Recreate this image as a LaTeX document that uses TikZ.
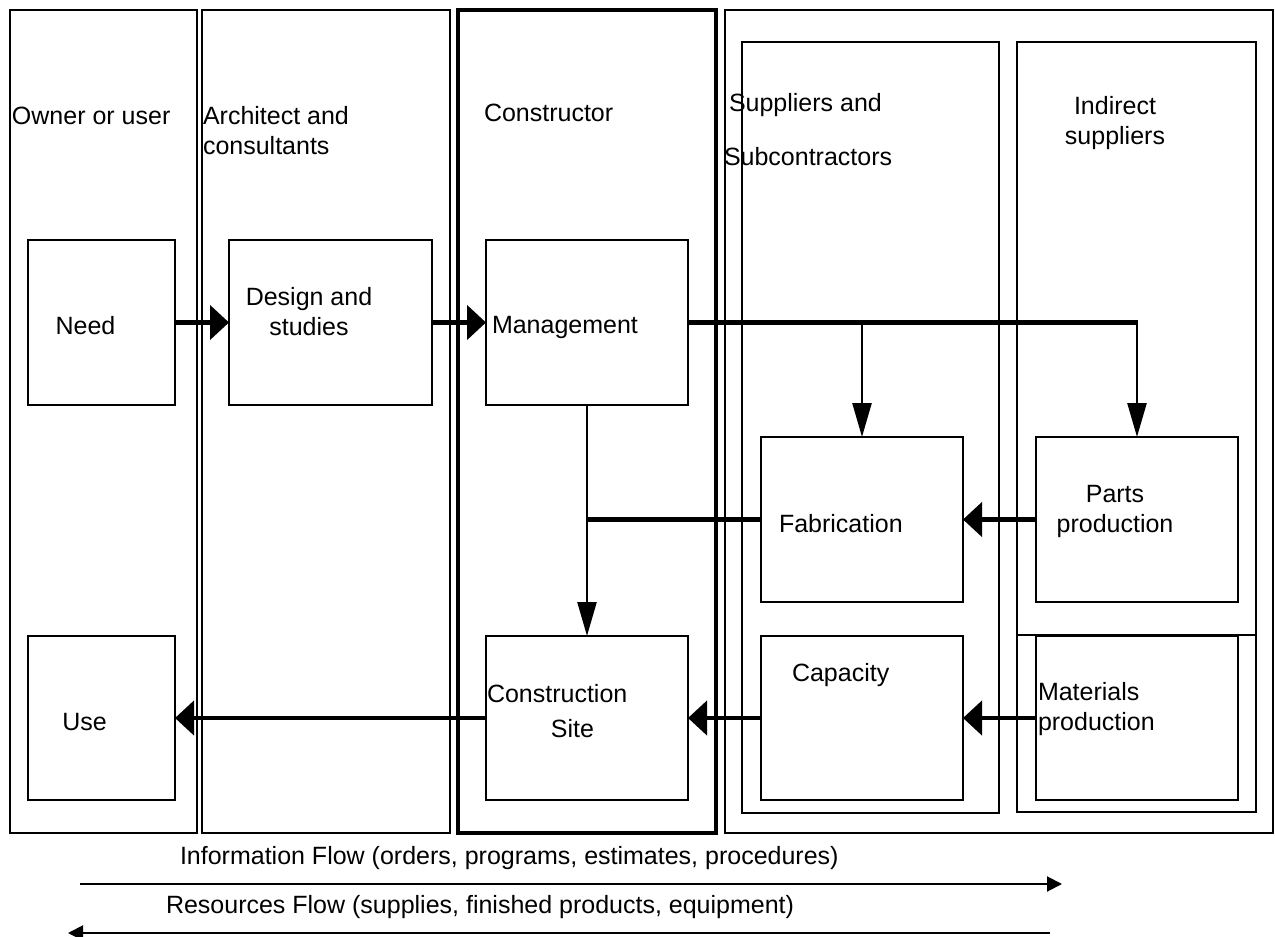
\documentclass[tikz,border=0pt]{standalone}
\usepackage{fontspec}
\setmainfont{Liberation Sans}
\usetikzlibrary{arrows.meta}
\tikzset{
  lane/.style={draw, line width=2pt},
  thicklane/.style={draw, line width=4.5pt},
  box/.style={draw, line width=2pt, inner sep=0pt, outer sep=0pt},
  lbl/.style={inner sep=0pt, outer sep=0pt, font=\fontsize{25}{30}\selectfont},
  flowH/.style={line width=4.5pt, -{Triangle[length=19pt,width=34pt]}},
  flowV/.style={line width=2.5pt, -{Triangle[length=34pt,width=19pt]}},
  bar/.style={line width=4.5pt},
  thinbar/.style={line width=2.5pt},
  legend/.style={line width=2pt, -{Triangle[length=15pt,width=15pt]}},
}
\begin{document}
\begin{tikzpicture}[x=1pt,y=-1pt]
\useasboundingbox (0,0) rectangle (1275,937);

% lanes
\draw[lane] (10,10) rectangle (197,833);
\draw[lane] (202,10) rectangle (450,833);
\draw[thicklane] (458,10) rectangle (716,833);
\draw[lane] (725,10) rectangle (1273,833);
\draw[lane] (742,42) rectangle (999,813);
\draw[lane] (1017,42) rectangle (1256,812);
\draw[lane] (1017,635) -- (1256,635);

% lane titles
\node[lbl, anchor=west] (tOwner) at (12,116) {Owner or user};
\node[lbl, anchor=west, align=left] (tArch) at (203,131) {Architect and\\consultants};
\node[lbl, anchor=west] (tCons) at (484,113) {Constructor};
\node[lbl, anchor=west] (tSup1) at (729,105) {Suppliers and};
\node[lbl, anchor=west] (tSup2) at (724,157) {Subcontractors};
\node[lbl, align=center] (tInd) at (1115,123) {Indirect\\suppliers};

% boxes
\node[box, minimum width=147pt, minimum height=165pt] (need) at (101.5,322.5) {};
\node[box, minimum width=203pt, minimum height=165pt] (design) at (330.5,322.5) {};
\node[box, minimum width=202pt, minimum height=165pt] (mgmt) at (587,322.5) {};
\node[box, minimum width=147pt, minimum height=164pt] (use) at (101.5,718) {};
\node[box, minimum width=202pt, minimum height=164pt] (site) at (587,718) {};
\node[box, minimum width=202pt, minimum height=165pt] (fab) at (862,519.5) {};
\node[box, minimum width=202pt, minimum height=164pt] (cap) at (862,718) {};
\node[box, minimum width=202pt, minimum height=165pt] (parts) at (1137,519.5) {};
\node[box, minimum width=202pt, minimum height=164pt] (mat) at (1137,718) {};

% box labels
\node[lbl] (tNeed) at (85.5,326) {Need};
\node[lbl, align=center] (tDesign) at (309,312) {Design and\\studies};
\node[lbl, anchor=west] (tMgmt) at (492,327) {Management};
\node[lbl] (tUse) at (84.5,722) {Use};
\node[lbl, anchor=west] (tSite1) at (487,693.5) {Construction};
\node[lbl] (tSite2) at (572.5,728.5) {Site};
\node[lbl, anchor=west] (tFab) at (779,524) {Fabrication};
\node[lbl, anchor=west] (tCap) at (792,675) {Capacity};
\node[lbl, align=center] (tParts) at (1115,511) {Parts\\production};
\node[lbl, anchor=west, align=left] (tMat) at (1038,709.5) {Materials\\production};

% connectors
\draw[flowH] (need.east) -- (design.west);
\draw[flowH] (design.east) -- (mgmt.west);
\coordinate (jR) at (parts.north |- mgmt.east);
\coordinate (jF) at (fab.north |- mgmt.east);
\coordinate (jS) at (mgmt.south |- fab.west);
\draw[bar] (mgmt.east) -- ([xshift=1.25pt]jR);
\draw[flowV] (jR) -- (parts.north);
\draw[flowV] (jF) -- (fab.north);
\draw[flowV] (mgmt.south) -- (site.north);
\draw[bar] (fab.west) -- (jS);
\draw[flowH] (parts.west) -- (fab.east);
\draw[flowH] (mat.west) -- (cap.east);
\draw[flowH] (cap.west) -- (site.east);
\draw[flowH] (site.west) -- (use.east);

% legend
\node[lbl, anchor=west] (tInfo) at (180,858) {Information Flow (orders, programs, estimates, procedures)};
\node[lbl, anchor=west] (tRes) at (166,907) {Resources Flow (supplies, finished products, equipment)};
\coordinate (infoA) at (80,884);
\coordinate (infoB) at (1062,884);
\coordinate (resA) at (1050,933);
\coordinate (resB) at (68,933);
\draw[legend] (infoA) -- (infoB);
\draw[legend] (resA) -- (resB);
\end{tikzpicture}
\end{document}
